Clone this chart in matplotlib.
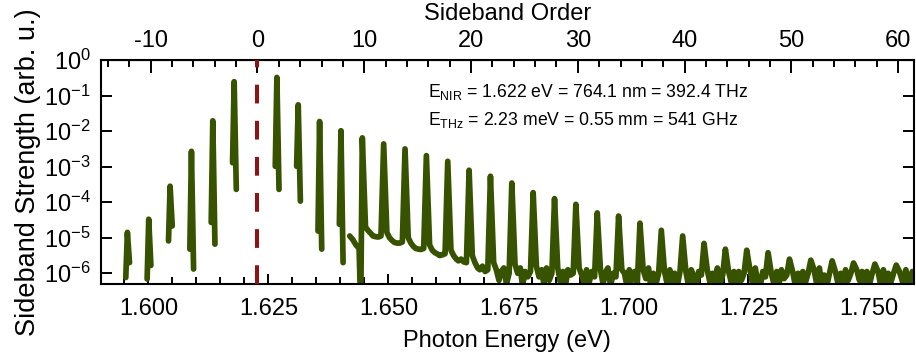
import numpy as np
import matplotlib
matplotlib.use("Agg")
import matplotlib.pyplot as plt
from matplotlib.ticker import MultipleLocator, LogLocator, NullLocator

plt.rcParams["font.family"] = ["Liberation Sans", "DejaVu Sans"]
plt.rcParams["mathtext.fontset"] = "custom"
plt.rcParams["mathtext.rm"] = "Liberation Sans"
plt.rcParams["mathtext.it"] = "Liberation Sans:italic"
plt.rcParams["mathtext.bf"] = "Liberation Sans:bold"
plt.rcParams["axes.unicode_minus"] = False
plt.rcParams["lines.scale_dashes"] = False

# photon energies (eV)
e_nir = 1.6223      # where the sidebands sit
e_thz = 0.002225    # sideband spacing
axis_zero = 1.6227  # order 0 on the top axis / red marker

# sidebands recorded as separate short windows (log10 of strength)
sep_orders = [-12, -10, -8, -6, -4, -2, 2, 4, 6, 8]
sep_top_log = [-4.85, -4.48, -3.55, -2.57, -1.71, -0.61, -0.49, -1.26, -1.73, -1.99]
sep_left_log = [-6.12, -6.16, -5.09, -5.32, -4.57, -2.89, -2.99, -2.99, -4.81, -4.62]
sep_right_log = [-5.70, -5.78, -4.67, -5.88, -5.18, -3.64, -3.64, -3.97, -5.32, -5.70]
sep_offsets = [-0.15, 0.0, 0.2]

# continuous scan from order ~9 up
pre_orders = [8.82, 9.1, 9.4, 9.7, 9.85]
pre_log = [-4.95, -5.05, -5.2, -5.3, -7.0]

peak_orders = [10, 12, 14, 16, 18, 20, 22, 24, 26, 28, 30, 32, 34,
               36, 38, 40, 42, 44, 46, 48, 50, 52, 54, 56, 58, 60]
peak_top_log = [-2.19, -2.36, -2.50, -2.69, -2.85, -3.10, -3.27, -3.46, -3.73,
                -3.90, -4.06, -4.30, -4.39, -4.59, -4.79, -4.95, -5.16, -5.32,
                -5.35, -5.42, -5.60, -5.63, -5.65, -5.71, -5.74, -5.77]

# floor between neighbouring peaks, sampled at gap_offsets after each peak
gap_offsets = [0.3, 0.55, 0.8, 1.0, 1.25, 1.5, 1.75]
gap_floor_log = [
    [-4.70, -4.80, -4.88, -4.95, -4.97, -4.98, -4.95],
    [-4.85, -5.00, -5.08, -5.13, -5.15, -5.15, -5.12],
    [-5.00, -5.15, -5.25, -5.30, -5.32, -5.33, -5.30],
    [-5.20, -5.35, -5.42, -5.45, -5.50, -5.48, -5.45],
    [-5.35, -5.50, -5.60, -5.65, -5.60, -5.68, -5.70],
    [-5.50, -5.70, -5.85, -5.90, -5.80, -5.95, -5.90],
    [-5.70, -5.90, -6.20, -5.95, -5.85, -6.30, -6.00],
    [-5.75, -6.00, -5.85, -6.35, -5.95, -6.10, -5.95],
    [-5.80, -6.10, -5.90, -6.30, -5.85, -6.20, -6.00],
    [-5.85, -6.25, -5.95, -6.40, -5.90, -6.05, -6.00],
    [-5.85, -6.05, -6.30, -5.90, -6.25, -5.95, -6.10],
    [-5.90, -6.30, -5.95, -5.85, -6.35, -6.00, -6.10],
    [-5.90, -6.00, -6.40, -5.90, -6.20, -5.95, -6.30],
    [-5.90, -6.15, -5.85, -6.35, -6.00, -6.30, -6.00],
    [-5.95, -6.30, -5.90, -6.30, -6.00, -6.35, -5.95],
    [-5.95, -6.35, -5.90, -6.05, -6.40, -5.95, -6.05],
    [-5.90, -6.25, -6.00, -6.35, -5.85, -6.30, -6.05],
    [-5.95, -6.25, -5.95, -6.40, -5.95, -6.20, -6.00],
    [-5.90, -6.30, -5.85, -6.20, -6.40, -5.95, -6.10],
    [-6.00, -6.30, -5.95, -6.35, -5.90, -6.15, -6.05],
    [-5.95, -6.35, -6.00, -6.35, -5.95, -6.25, -6.00],
    [-5.90, -6.30, -5.85, -6.25, -6.05, -6.35, -6.00],
    [-5.95, -6.30, -6.00, -6.40, -5.90, -6.20, -6.00],
    [-5.90, -6.20, -5.95, -6.35, -5.95, -6.30, -6.00],
    [-5.95, -6.35, -5.90, -6.30, -6.00, -6.25, -6.00],
]
end_offsets = [0.3, 0.6, 0.9, 1.2, 1.5, 1.9]
end_log = [-5.95, -6.25, -5.90, -6.35, -5.95, -6.40]

green = "#375300"
dark_red = "#8c1414"


def order_to_ev(n):
    return e_nir + np.asarray(n, dtype=float) * e_thz


fig = plt.figure(figsize=(9.16, 3.58), dpi=100)
ax = fig.add_axes([100.5 / 916, 74 / 358, 813.5 / 916, 224 / 358])

line_kw = dict(color=green, lw=4.1, solid_joinstyle="round", solid_capstyle="round")

for i, n in enumerate(sep_orders):
    xs = [n + o for o in sep_offsets]
    ys = [sep_left_log[i], sep_top_log[i], sep_right_log[i]]
    ax.plot(order_to_ev(xs), 10 ** np.array(ys), **line_kw)

cont_x = list(pre_orders)
cont_y = list(pre_log)
for i, n in enumerate(peak_orders):
    cont_x.append(n)
    cont_y.append(peak_top_log[i])
    if i < len(gap_floor_log):
        for o, v in zip(gap_offsets, gap_floor_log[i]):
            cont_x.append(n + o)
            cont_y.append(v)
for o, v in zip(end_offsets, end_log):
    cont_x.append(peak_orders[-1] + o)
    cont_y.append(v)
ax.plot(order_to_ev(cont_x), 10 ** np.array(cont_y), **line_kw)

ax.axvline(axis_zero, color=dark_red, lw=2.9, dashes=(13.5, 12.5), zorder=3)

ax.set_yscale("log")
ax.set_xlim(1.5900, 1.7595)
ax.set_ylim(5e-7, 1)

ax.xaxis.set_major_locator(MultipleLocator(0.025))
ax.xaxis.set_minor_locator(MultipleLocator(0.005))
ax.xaxis.set_major_formatter(plt.FuncFormatter(lambda v, p: "%.3f" % v))
ax.yaxis.set_major_locator(LogLocator(base=10, numticks=12))
ax.yaxis.set_minor_locator(NullLocator())

ax.tick_params(axis="both", which="both", direction="in", labelsize=17,
               top=False, right=True, width=1.4)
ax.tick_params(axis="x", which="major", length=7, pad=10)
ax.tick_params(axis="x", which="minor", length=5)
ax.tick_params(axis="y", which="major", length=8, pad=7)
for s in ax.spines.values():
    s.set_linewidth(1.5)

ax.set_xlabel("Photon Energy (eV)", fontsize=17, labelpad=7)
ax.set_ylabel("Sideband Strength (arb. u.)", fontsize=19.5, labelpad=2)

top = ax.secondary_xaxis("top", functions=(lambda e: (e - axis_zero) / e_thz,
                                           lambda n: axis_zero + n * e_thz))
top.xaxis.set_major_locator(MultipleLocator(10))
top.xaxis.set_minor_locator(MultipleLocator(2))
top.tick_params(which="both", direction="in", labelsize=17, width=1.4)
top.tick_params(which="major", length=9, pad=6)
top.tick_params(which="minor", length=5)
top.set_xlabel("Sideband Order", fontsize=17, labelpad=7)

ax.text(0.402, 0.859, r"E$_{\mathrm{NIR}}$ = 1.622 eV = 764.1 nm = 392.4 THz",
        transform=ax.transAxes, fontsize=12.7, va="center", ha="left")
ax.text(0.402, 0.732, r"E$_{\mathrm{THz}}$ = 2.23 meV = 0.55 mm = 541 GHz",
        transform=ax.transAxes, fontsize=12.7, va="center", ha="left")

fig.savefig("out.png", dpi=100)
